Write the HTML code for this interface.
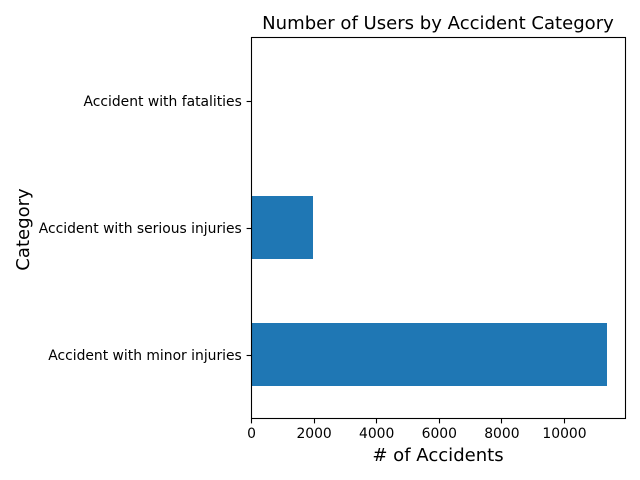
<!DOCTYPE html>
<html>
<head>
<meta charset="utf-8">
<title>Number of Users by Accident Category</title>
<style>
  html, body { margin: 0; padding: 0; background: #fff; }
  svg { display: block; }
  text { font-family: "DejaVu Sans", "Liberation Sans", sans-serif; fill: #000; }
</style>
</head>
<body>
<svg id="chart" xmlns="http://www.w3.org/2000/svg" width="640" height="480" viewBox="0 0 640 480">
  <text x="438" y="29" text-anchor="middle" font-size="18.06">Number of Users by Accident Category</text>
  <text x="438" y="461" text-anchor="middle" font-size="18.06"># of Accidents</text>
  <text x="29" y="229.5" text-anchor="middle" font-size="18.06" transform="rotate(-90 29 229.5)">Category</text>
  <g id="bars"></g>
  <g id="x-ticks"></g>
  <g id="y-ticks"></g>
  <rect x="251.5" y="37.5" width="374" height="381" fill="none" stroke="#000" stroke-width="1.1"></rect>
</svg>
<script>
const categories = ["Accident with minor injuries", "Accident with serious injuries", "Accident with fatalities"];
const accidentCounts = [11380, 1975, 12];
const xTickValues = [0, 2000, 4000, 6000, 8000, 10000];
const xTickLabels = ["0", "2000", "4000", "6000", "8000", "10000"];

const NS = "http://www.w3.org/2000/svg";
const plotLeft = 251.5, plotRight = 625.5, plotTop = 37.5, plotBottom = 418.5;
const xMax = Math.max.apply(null, accidentCounts) * 1.05;
const barFraction = 0.5;

function xScale(v) {
  return plotLeft + (v / xMax) * (plotRight - plotLeft);
}
function yScale(i) {
  const unit = (plotBottom - plotTop) / categories.length;
  return plotBottom - (i + 0.5) * unit;
}
function bandHeight() {
  return ((plotBottom - plotTop) / categories.length) * barFraction;
}
function make(tag, attrs) {
  const el = document.createElementNS(NS, tag);
  Object.keys(attrs).forEach(function (k) { el.setAttribute(k, attrs[k]); });
  return el;
}

const barsGroup = document.getElementById("bars");
const xTicksGroup = document.getElementById("x-ticks");
const yTicksGroup = document.getElementById("y-ticks");

categories.forEach(function (cat, i) {
  const h = bandHeight();
  const bar = make("rect", {
    x: Math.floor(plotLeft),
    y: Math.round(yScale(i) - h / 2),
    width: Math.floor(xScale(accidentCounts[i])) - Math.floor(plotLeft),
    height: Math.floor(h),
    fill: "#1f77b4"
  });
  
  
  barsGroup.appendChild(bar);

  const tick = make("line", {
    x1: plotLeft - 4.9, x2: plotLeft,
    y1: Math.round(yScale(i)) + 0.5, y2: Math.round(yScale(i)) + 0.5,
    stroke: "#000", "stroke-width": 1.1
  });
  
  
  yTicksGroup.appendChild(tick);

  const label = make("text", {
    x: plotLeft - 9.7,
    y: yScale(i) + 5,
    "text-anchor": "end",
    "font-size": 13.89
  });
  label.textContent = cat;
  
  
  yTicksGroup.appendChild(label);
});

xTickValues.forEach(function (v, i) {
  const px = Math.round(xScale(v) - 0.5) + 0.5;
  const tick = make("line", {
    x1: px, x2: px,
    y1: plotBottom, y2: plotBottom + 4.9,
    stroke: "#000", "stroke-width": 1.1
  });
  
  
  xTicksGroup.appendChild(tick);

  const label = make("text", {
    x: xScale(v),
    y: plotBottom + 19.5,
    "text-anchor": "middle",
    "font-size": 13.89
  });
  label.textContent = xTickLabels[i];
  
  
  xTicksGroup.appendChild(label);
});
</script>
</body>
</html>
